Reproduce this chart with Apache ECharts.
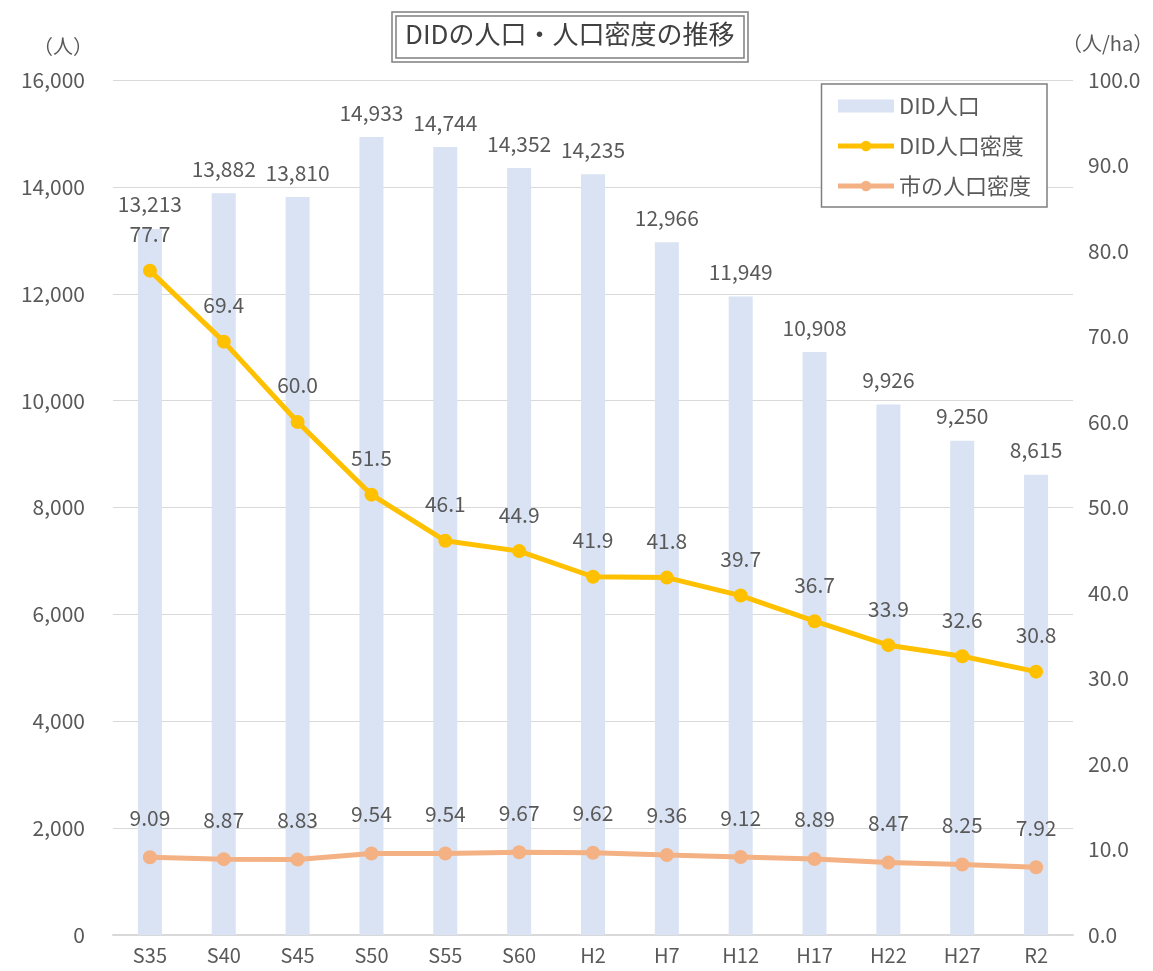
<!DOCTYPE html>
<html>
<head>
<meta charset="utf-8">
<script src="https://cdn.jsdelivr.net/npm/echarts@6/dist/echarts.min.js"></script>
<style>
html, body { margin: 0; padding: 0; background: #fff; }
#chart { width: 1153px; height: 971px; }
</style>
</head>
<body>
<div id="chart"></div>
<script>
const categories = ["S35", "S40", "S45", "S50", "S55", "S60", "H2", "H7", "H12", "H17", "H22", "H27", "R2"];
const didPopulation = [13213, 13882, 13810, 14933, 14744, 14352, 14235, 12966, 11949, 10908, 9926, 9250, 8615];
const didDensity = [77.7, 69.4, 60.0, 51.5, 46.1, 44.9, 41.9, 41.8, 39.7, 36.7, 33.9, 32.6, 30.8];
const cityDensity = [9.09, 8.87, 8.83, 9.54, 9.54, 9.67, 9.62, 9.36, 9.12, 8.89, 8.47, 8.25, 7.92];

const font = "'Noto Sans CJK JP', 'Noto Sans', sans-serif";
const grey = "#595959";

const chart = echarts.init(document.getElementById("chart"));
chart.setOption({
  animation: false,
  textStyle: { fontFamily: font },
  title: {
    text: "DIDの人口・人口密度の推移",
    left: 405,
    top: 21,
    padding: 0,
    textStyle: { fontFamily: font, fontSize: 26, fontWeight: "normal", color: "#404040" },
  },
  graphic: [
    // double frame around the title
    {
      type: "rect",
      shape: { x: 392, y: 12, width: 356, height: 50 },
      style: { fill: "none", stroke: "#7f7f7f", lineWidth: 1.5 },
    },
    {
      type: "rect",
      shape: { x: 396, y: 16, width: 348, height: 42 },
      style: { fill: "none", stroke: "#7f7f7f", lineWidth: 1.5 },
    },
    // unit of the right axis
    {
      type: "text",
      left: 1062,
      top: 33,
      style: { text: "（人/ha）", font: "20px " + font, fill: grey },
    },
  ],
  legend: {
    orient: "vertical",
    right: 106,
    top: 84,
    padding: [11, 16, 10, 14],
    itemGap: 18,
    itemWidth: 56,
    itemHeight: 13,
    borderColor: "#7f7f7f",
    borderWidth: 1.5,
    backgroundColor: "#fff",
    textStyle: { fontSize: 22, color: grey, fontFamily: font },
    data: [
      { name: "DID人口", icon: "rect" },
      { name: "DID人口密度", lineStyle: { width: 5 } },
      { name: "市の人口密度", lineStyle: { width: 5 } },
    ],
  },
  grid: { left: 113, right: 80, top: 80, bottom: 36, outerBoundsMode: "none" },
  xAxis: {
    type: "category",
    data: categories,
    axisLine: { lineStyle: { color: "#d9d9d9", width: 2 } },
    axisTick: { show: false },
    axisLabel: { fontSize: 20, color: grey, margin: 10 },
  },
  yAxis: [
    {
      type: "value",
      min: 0,
      max: 16000,
      interval: 2000,
      name: "（人）",
      nameLocation: "end",
      nameGap: 24,
      nameTextStyle: { fontSize: 20, color: grey, align: "center", padding: [0, 100, 0, 0] },
      axisLine: { show: false },
      axisTick: { show: false },
      splitLine: { lineStyle: { color: "#d9d9d9", width: 1 } },
      axisLabel: {
        fontSize: 21,
        color: grey,
        margin: 28,
        formatter: (v) => v.toLocaleString("en-US"),
      },
    },
    {
      type: "value",
      min: 0,
      max: 100,
      interval: 10,
      axisLine: { show: false },
      axisTick: { show: false },
      splitLine: { show: false },
      axisLabel: {
        fontSize: 21,
        color: grey,
        margin: 15,
        formatter: (v) => v.toFixed(1),
      },
    },
  ],
  series: [
    {
      name: "DID人口",
      type: "bar",
      data: didPopulation,
      barWidth: 24,
      itemStyle: { color: "#dae3f3" },
      label: {
        show: true,
        position: "top",
        distance: 14,
        fontSize: 21,
        color: grey,
        formatter: (p) => p.value.toLocaleString("en-US"),
      },
    },
    {
      name: "DID人口密度",
      type: "line",
      yAxisIndex: 1,
      data: didDensity,
      symbol: "circle",
      symbolSize: 14,
      lineStyle: { color: "#ffc000", width: 5 },
      itemStyle: { color: "#ffc000" },
      label: {
        show: true,
        position: "top",
        distance: 19,
        fontSize: 21,
        color: grey,
        formatter: (p) => p.value.toFixed(1),
      },
    },
    {
      name: "市の人口密度",
      type: "line",
      yAxisIndex: 1,
      data: cityDensity,
      symbol: "circle",
      symbolSize: 14,
      lineStyle: { color: "#f4b183", width: 5 },
      itemStyle: { color: "#f4b183" },
      label: {
        show: true,
        position: "top",
        distance: 22,
        fontSize: 21,
        color: grey,
        formatter: (p) => p.value.toFixed(2),
      },
    },
  ],
});
</script>
</body>
</html>
